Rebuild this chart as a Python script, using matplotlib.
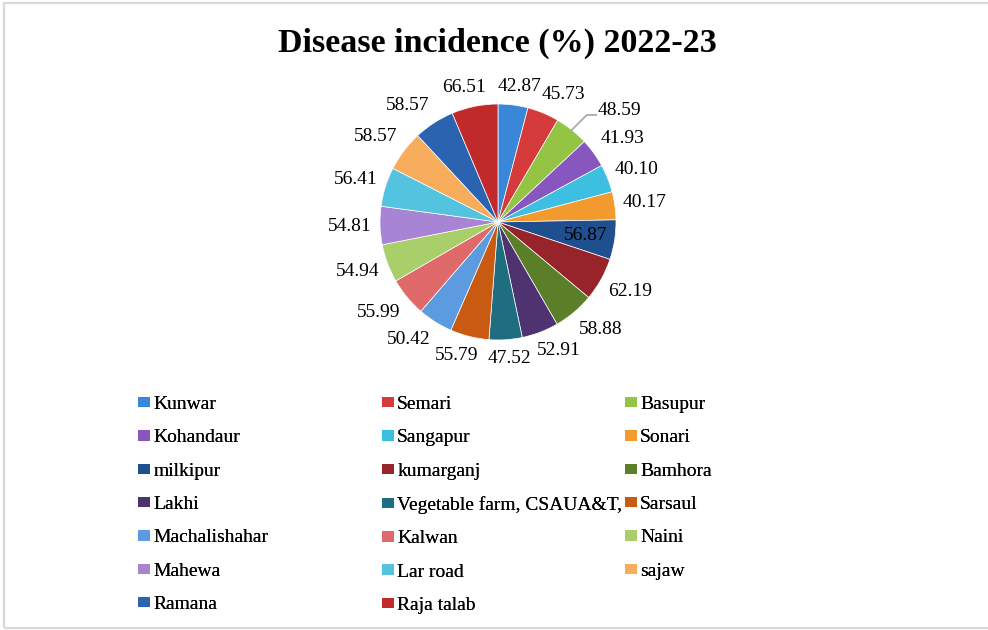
import numpy as np
import matplotlib.pyplot as plt
from matplotlib.patches import Rectangle

plt.rcParams['font.family'] = ['Liberation Serif', 'DejaVu Serif']

# Data
places = ['Kunwar', 'Semari', 'Basupur', 'Kohandaur', 'Sangapur', 'Sonari',
          'milkipur', 'kumarganj', 'Bamhora', 'Lakhi', 'Vegetable farm, CSAUA&T,',
          'Sarsaul', 'Machalishahar', 'Kalwan', 'Naini', 'Mahewa', 'Lar road',
          'sajaw', 'Ramana', 'Raja talab']
incidence = [42.87, 45.73, 48.59, 41.93, 40.10, 40.17, 56.87, 62.19, 58.88, 52.91,
             47.52, 55.79, 50.42, 55.99, 54.94, 54.81, 56.41, 58.57, 58.57, 66.51]
colors = ['#3a86d8', '#d63b3b', '#94c444', '#8756bf', '#3cbfe0', '#f39a2e',
          '#1f4f8f', '#96242a', '#5b7f28', '#4f3270', '#1f6e80', '#c95a12',
          '#5d9be0', '#e06a6a', '#a9cf6b', '#a785d4', '#54c3df', '#f8ad5c',
          '#2a64b0', '#c02a2a']

W, H = 988, 630
fig = plt.figure(figsize=(W / 100, H / 100), dpi=100)

# outer frame
fig.patches.append(Rectangle((4 / W, 2 / H), 990 / W, 625 / H, transform=fig.transFigure,
                             fill=False, edgecolor='#d9d9d9', linewidth=1.6))

# pie axes: centre (498, 222) px, radius 118 px
cx, cy, R = 498, 222, 118
lim = 1.6
ax = fig.add_axes([(cx - lim * R) / W, (H - cy - lim * R) / H, 2 * lim * R / W, 2 * lim * R / H])
wedges, _ = ax.pie(incidence, colors=colors, startangle=90, counterclock=False, radius=1,
                   wedgeprops=dict(edgecolor='white', linewidth=0.5))
ax.set_xlim(-lim, lim)
ax.set_ylim(-lim, lim)
ax.set_aspect('equal')
ax.axis('off')

# data labels
for i, w in enumerate(wedges):
    th = np.deg2rad((w.theta1 + w.theta2) / 2)
    ux, uy = np.cos(th), np.sin(th)
    txt = f'{incidence[i]:.2f}'
    if places[i] == 'milkipur':
        ax.text(0.75 * ux, 0.75 * uy, txt, ha='center', va='center', fontsize=14)
    elif places[i] == 'Basupur':
        p0 = np.array([ux, uy])
        p1 = p0 + np.array([0.127, 0.127])
        p2 = p1 + np.array([0.08, 0])
        ax.plot([p0[0], p1[0], p2[0]], [p0[1], p1[1], p2[1]], color='#a6a6a6', lw=1.2)
        ax.text(p2[0] + 0.015, p2[1] + 0.035, txt, ha='left', va='center', fontsize=14)
    else:
        x = 1.068 * ux + 0.186 * np.clip(2.0 * ux, -1, 1)
        y = 1.068 * uy + 0.093 * np.clip(1.5 * uy, -1, 1)
        ax.text(x, y, txt, ha='center', va='center', fontsize=14)

# title
fig.text(497 / W, 1 - 52 / H, 'Disease incidence (%) 2022-23', ha='center', va='baseline',
         fontsize=24.5, fontweight='bold')

# legend, three fixed-width columns filled row by row
col_x = [138, 382, 625]
for c in range(3):
    idx = list(range(c, len(places), 3))
    leg = fig.legend([wedges[i] for i in idx], [places[i] for i in idx],
                     loc='upper left', bbox_to_anchor=(col_x[c] / W, 1 - 396 / H),
                     frameon=False, fontsize=14, borderpad=0, borderaxespad=0,
                     handlelength=0.6, handleheight=0.45, handletextpad=0.18,
                     labelspacing=0.84)
    for h in leg.legend_handles:
        h.set_edgecolor('none')
    fig.add_artist(leg)

fig.savefig('out.png', dpi=100)
